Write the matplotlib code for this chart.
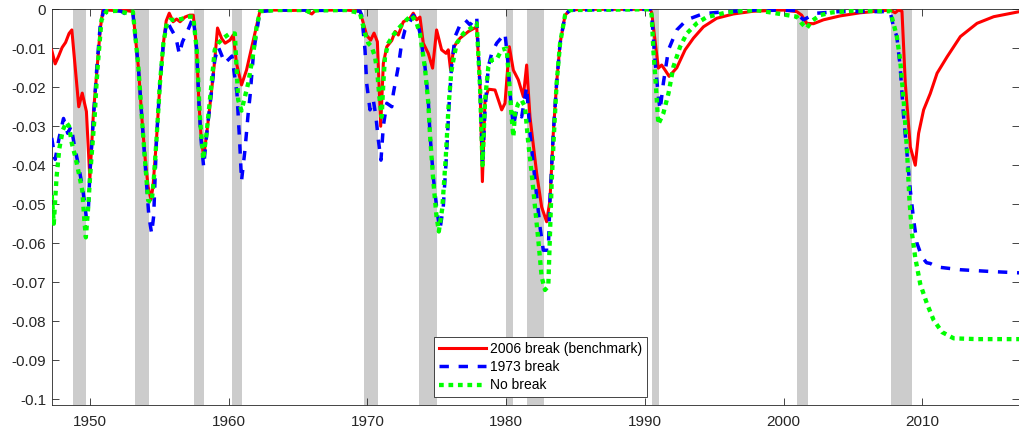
import matplotlib
matplotlib.use("Agg")
import matplotlib.pyplot as plt
from matplotlib.ticker import FixedLocator

plt.rcParams['font.family'] = ['Liberation Sans', 'DejaVu Sans']

# NBER recessions (start, end) in decimal years
rec_start = [1948.75, 1953.25, 1957.5, 1960.25, 1969.75, 1973.75, 1980.0, 1981.5, 1990.5, 2001.0, 2007.75]
rec_end = [1949.75, 1954.25, 1958.25, 1961.0, 1970.75, 1975.0, 1980.5, 1982.75, 1991.0, 2001.75, 2009.25]

# 2006 break (benchmark)
red_t = [1947.25, 1947.5, 1947.75, 1948.0, 1948.25, 1948.5, 1948.7, 1948.95, 1949.2, 1949.45,
         1949.75, 1950.0, 1950.25, 1950.5, 1950.75, 1950.95, 1951.25, 1951.75, 1952.25, 1952.75,
         1953.1, 1953.5, 1953.75, 1954.0, 1954.2, 1954.4, 1954.55, 1954.8, 1955.05, 1955.3,
         1955.5, 1955.72, 1956.0, 1956.25, 1956.5, 1956.85, 1957.2, 1957.45, 1957.7, 1957.85,
         1958.0, 1958.2, 1958.45, 1958.75, 1959.0, 1959.2, 1959.5, 1959.75, 1960.1, 1960.33,
         1960.57, 1960.93, 1961.29, 1961.54, 1961.9, 1962.25, 1962.5, 1963.5, 1964.5, 1965.5,
         1966.0, 1966.25, 1967.5, 1968.5, 1969.47, 1969.95, 1970.24, 1970.48, 1970.72, 1970.96,
         1971.15, 1971.4, 1971.76, 1972.0, 1972.23, 1972.59, 1973.07, 1973.31, 1973.55, 1973.79,
         1974.03, 1974.39, 1974.7, 1974.99, 1975.35, 1975.67, 1975.83, 1976.0, 1976.24, 1976.68,
         1977.28, 1977.88, 1978.12, 1978.29, 1978.48, 1978.72, 1979.2, 1979.68, 1979.92, 1980.23,
         1980.52, 1980.88, 1981.24, 1981.48, 1981.72, 1982.2, 1982.56, 1982.92, 1983.16, 1983.4,
         1983.64, 1983.89, 1984.25, 1984.6, 1985.5, 1987.0, 1988.5, 1990.37, 1990.49, 1990.73,
         1990.97, 1991.21, 1991.46, 1991.75, 1992.3, 1992.9, 1993.5, 1994.22, 1995.18, 1996.38,
         1997.82, 1999.98, 2000.95, 2001.3, 2001.66, 2002.15, 2002.87, 2004.07, 2005.51, 2007.68,
         2008.04, 2008.28, 2008.53, 2008.77, 2009.13, 2009.49, 2009.73, 2010.09, 2010.57, 2011.06,
         2011.78, 2012.74, 2013.94, 2015.14, 2017.0]
red_v = [-0.0105, -0.0140, -0.0120, -0.0098, -0.0085, -0.0062, -0.0053, -0.0150, -0.0250, -0.0215,
         -0.0262, -0.0435, -0.0270, -0.0160, -0.0050, 0.0, -0.0002, -0.0003, -0.0002, -0.0004,
         -0.0006, -0.0150, -0.0280, -0.0390, -0.0455, -0.0488, -0.0455, -0.0335, -0.0190, -0.0087,
         -0.0030, -0.0010, -0.0032, -0.0025, -0.0032, -0.0020, -0.0015, -0.0015, -0.0104, -0.0233,
         -0.0320, -0.0380, -0.0310, -0.0216, -0.0130, -0.0048, -0.0075, -0.0087, -0.0079, -0.0066,
         -0.0139, -0.0194, -0.0156, -0.0117, -0.0060, -0.0006, -0.0002, -0.0002, -0.0003, -0.0002,
         -0.0012, -0.0003, -0.0002, -0.0002, -0.0005, -0.0067, -0.0079, -0.0061, -0.0083, -0.0300,
         -0.0139, -0.0096, -0.0080, -0.0057, -0.0066, -0.0032, -0.0023, -0.0010, -0.0027, -0.0020,
         -0.0087, -0.0113, -0.0151, -0.0053, -0.0104, -0.0113, -0.0104, -0.0156, -0.0096, -0.0074,
         -0.0057, -0.0045, -0.0199, -0.0442, -0.0233, -0.0205, -0.0207, -0.0258, -0.0241, -0.0096,
         -0.0156, -0.0181, -0.0224, -0.0143, -0.0276, -0.0420, -0.0507, -0.0545, -0.0490, -0.0318,
         -0.0190, -0.0087, -0.0015, -0.0002, 0.0, 0.0, 0.0, 0.0, -0.0008, -0.0079,
         -0.0151, -0.0143, -0.0156, -0.0172, -0.0150, -0.0104, -0.0074, -0.0045, -0.0023, -0.0012,
         -0.0005, -0.0002, -0.0006, -0.0015, -0.0036, -0.0037, -0.0027, -0.0017, -0.0009, -0.0002,
         -0.0009, -0.0002, -0.0005, -0.0190, -0.0353, -0.0400, -0.0318, -0.0258, -0.0216, -0.0164,
         -0.0122, -0.0070, -0.0036, -0.0019, -0.0006]

# 1973 break
blue_t = [1947.25, 1947.5, 1947.8, 1948.1, 1948.4, 1948.65, 1948.9, 1949.2, 1949.5, 1949.75,
          1949.9, 1950.0, 1950.12, 1950.25, 1950.5, 1950.75, 1951.0, 1951.5, 1952.25, 1952.88,
          1953.1, 1953.5, 1953.75, 1954.05, 1954.25, 1954.45, 1954.6, 1954.8, 1955.05, 1955.3,
          1955.55, 1955.85, 1956.2, 1956.45, 1956.67, 1957.07, 1957.45, 1957.7, 1957.85, 1958.0,
          1958.2, 1958.45, 1958.75, 1959.0, 1959.25, 1959.73, 1960.24, 1960.6, 1960.8, 1960.93,
          1961.18, 1961.41, 1961.54, 1961.8, 1962.25, 1963.5, 1965.5, 1966.0, 1966.25, 1968.5,
          1969.47, 1969.59, 1969.83, 1969.95, 1970.19, 1970.43, 1970.62, 1970.79, 1970.98, 1971.15,
          1971.4, 1971.76, 1971.87, 1972.23, 1972.47, 1972.71, 1973.07, 1973.31, 1973.55, 1973.79,
          1974.15, 1974.39, 1974.51, 1974.75, 1975.04, 1975.23, 1975.47, 1975.71, 1975.88, 1976.07,
          1976.32, 1976.68, 1977.04, 1977.4, 1977.88, 1978.12, 1978.3, 1978.48, 1978.72, 1978.96,
          1979.32, 1979.92, 1980.16, 1980.28, 1980.52, 1980.76, 1981.12, 1981.48, 1981.72, 1982.08,
          1982.44, 1982.68, 1983.04, 1983.16, 1983.4, 1983.64, 1983.89, 1984.25, 1984.6, 1990.37,
          1990.49, 1990.73, 1990.97, 1991.1, 1991.33, 1991.7, 1992.3, 1993.02, 1994.22, 1995.9,
          1998.0, 2000.95, 2001.07, 2001.43, 2001.8, 2002.4, 2004.0, 2007.68, 2007.92, 2008.16,
          2008.4, 2008.65, 2008.89, 2009.13, 2009.37, 2009.61, 2009.97, 2010.3, 2010.57, 2011.06,
          2011.78, 2012.74, 2015.14, 2017.0]
blue_v = [-0.0330, -0.0385, -0.0327, -0.0280, -0.0318, -0.0300, -0.0353, -0.0404, -0.0464, -0.0535,
          -0.0507, -0.0420, -0.0353, -0.0284, -0.0150, -0.0040, -0.0003, -0.0003, -0.0005, -0.0019,
          -0.0010, -0.0150, -0.0280, -0.0430, -0.0530, -0.0575, -0.0530, -0.0335, -0.0190, -0.0087,
          -0.0030, -0.0050, -0.0072, -0.0115, -0.0084, -0.0053, -0.0020, -0.0104, -0.0233, -0.0330,
          -0.0404, -0.0310, -0.0216, -0.0130, -0.0096, -0.0138, -0.0120, -0.0215, -0.0343, -0.0440,
          -0.0360, -0.0267, -0.0224, -0.0110, -0.0006, -0.0002, -0.0002, -0.0010, -0.0003, -0.0002,
          -0.0005, -0.0015, -0.0104, -0.0190, -0.0258, -0.0233, -0.0276, -0.0335, -0.0387, -0.0300,
          -0.0241, -0.0250, -0.0216, -0.0147, -0.0087, -0.0053, -0.0032, -0.0015, -0.0025, -0.0061,
          -0.0147, -0.0233, -0.0318, -0.0430, -0.0523, -0.0566, -0.0507, -0.0370, -0.0250, -0.0147,
          -0.0070, -0.0040, -0.0027, -0.0040, -0.0019, -0.0200, -0.0400, -0.0258, -0.0147, -0.0113,
          -0.0087, -0.0062, -0.0147, -0.0216, -0.0300, -0.0258, -0.0276, -0.0199, -0.0318, -0.0438,
          -0.0558, -0.0618, -0.0618, -0.0490, -0.0318, -0.0190, -0.0087, -0.0015, -0.0002, 0.0,
          -0.0015, -0.0130, -0.0224, -0.0258, -0.0190, -0.0104, -0.0053, -0.0027, -0.0011, -0.0006,
          -0.0002, -0.0003, -0.0015, -0.0027, -0.0020, -0.0010, -0.0006, -0.0006, -0.0045, -0.0070,
          -0.0147, -0.0276, -0.0370, -0.0464, -0.0540, -0.0600, -0.0635, -0.0650, -0.0652, -0.0661,
          -0.0664, -0.0668, -0.0673, -0.0676]

# No break
green_t = [1947.25, 1947.4, 1947.6, 1947.8, 1948.05, 1948.3, 1948.5, 1948.7, 1948.95, 1949.2,
           1949.45, 1949.6, 1949.71, 1949.88, 1950.0, 1950.12, 1950.36, 1950.48, 1950.6, 1950.84,
           1951.2, 1952.0, 1952.7, 1953.1, 1953.5, 1953.75, 1954.0, 1954.2, 1954.45, 1954.6,
           1954.8, 1955.05, 1955.3, 1955.55, 1955.77, 1956.2, 1956.6, 1957.0, 1957.45, 1957.7,
           1957.93, 1958.17, 1958.41, 1958.77, 1959.0, 1959.25, 1959.61, 1960.09, 1960.45, 1960.57,
           1960.69, 1960.93, 1961.18, 1961.41, 1961.78, 1962.02, 1962.26, 1963.5, 1965.5, 1966.0,
           1966.25, 1968.5, 1969.47, 1969.83, 1970.07, 1970.31, 1970.55, 1970.72, 1970.86, 1971.03,
           1971.15, 1971.27, 1971.51, 1971.87, 1972.35, 1972.83, 1973.19, 1973.55, 1973.79, 1974.15,
           1974.39, 1974.51, 1974.75, 1974.98, 1975.15, 1975.4, 1975.65, 1975.85, 1976.05, 1976.2,
           1976.44, 1976.92, 1977.4, 1977.88, 1978.12, 1978.3, 1978.48, 1978.72, 1978.96, 1979.32,
           1979.68, 1980.04, 1980.23, 1980.4, 1980.52, 1980.64, 1980.88, 1981.12, 1981.36, 1981.6,
           1981.84, 1982.08, 1982.32, 1982.56, 1982.8, 1983.04, 1983.16, 1983.28, 1983.45, 1983.64,
           1983.89, 1984.25, 1984.6, 1990.37, 1990.49, 1990.61, 1990.8, 1990.97, 1991.33, 1991.7,
           1992.06, 1992.54, 1993.02, 1993.74, 1994.46, 1995.9, 1998.0, 2000.95, 2001.3, 2001.66,
           2002.03, 2002.63, 2003.5, 2005.0, 2007.68, 2007.92, 2008.16, 2008.4, 2008.65, 2008.89,
           2009.07, 2009.25, 2009.49, 2009.85, 2010.33, 2010.81, 2011.42, 2012.26, 2013.94, 2017.0]
green_v = [-0.0477, -0.0550, -0.0430, -0.0357, -0.0310, -0.0290, -0.0300, -0.0344, -0.0378, -0.0420,
           -0.0464, -0.0540, -0.0585, -0.0507, -0.0438, -0.0378, -0.0267, -0.0190, -0.0130, -0.0027,
           -0.0005, -0.0004, -0.0010, -0.0006, -0.0150, -0.0280, -0.0400, -0.0490, -0.0495, -0.0440,
           -0.0335, -0.0190, -0.0087, -0.0035, -0.0027, -0.0027, -0.0025, -0.0019, -0.0019, -0.0104,
           -0.0276, -0.0385, -0.0318, -0.0190, -0.0104, -0.0087, -0.0074, -0.0062, -0.0062, -0.0147,
           -0.0233, -0.0260, -0.0224, -0.0190, -0.0113, -0.0045, -0.0005, -0.0002, -0.0002, -0.0010,
           -0.0003, -0.0002, -0.0010, -0.0062, -0.0087, -0.0096, -0.0122, -0.0164, -0.0224, -0.0276,
           -0.0190, -0.0122, -0.0087, -0.0066, -0.0045, -0.0027, -0.0015, -0.0036, -0.0062, -0.0150,
           -0.0240, -0.0320, -0.0440, -0.0530, -0.0570, -0.0510, -0.0380, -0.0250, -0.0160, -0.0130,
           -0.0087, -0.0062, -0.0050, -0.0036, -0.0200, -0.0400, -0.0233, -0.0147, -0.0130, -0.0128,
           -0.0104, -0.0100, -0.0190, -0.0276, -0.0327, -0.0267, -0.0241, -0.0233, -0.0250, -0.0344,
           -0.0420, -0.0507, -0.0592, -0.0686, -0.0720, -0.0710, -0.0575, -0.0447, -0.0318, -0.0190,
           -0.0087, -0.0015, -0.0002, 0.0, -0.0015, -0.0104, -0.0199, -0.0295, -0.0267, -0.0216,
           -0.0147, -0.0096, -0.0062, -0.0036, -0.0020, -0.0008, -0.0002, -0.0019, -0.0036, -0.0049,
           -0.0030, -0.0015, -0.0008, -0.0004, -0.0005, -0.0036, -0.0070, -0.0130, -0.0233, -0.0360,
           -0.0490, -0.0575, -0.0638, -0.0705, -0.0755, -0.0797, -0.0828, -0.0844, -0.0846, -0.0846]

x_ticks = [1950, 1960, 1970, 1980, 1990, 2000, 2010]
y_ticks = [0, -0.01, -0.02, -0.03, -0.04, -0.05, -0.06, -0.07, -0.08, -0.09, -0.1]
y_labels = ['0', '-0.01', '-0.02', '-0.03', '-0.04', '-0.05', '-0.06', '-0.07', '-0.08', '-0.09', '-0.1']

fig = plt.figure(figsize=(10.2, 4.34), dpi=100)
ax = fig.add_axes([0.0507, 0.0668, 0.9488, 0.9118])

# recession shading
for s, e in zip(rec_start, rec_end):
    ax.axvspan(s, e, color='#cccccc', lw=0, zorder=0)

ax.plot(red_t, red_v, color='#ff0000', lw=2.2, label='2006 break (benchmark)', zorder=3)
ax.plot(blue_t, blue_v, color='#0000ff', lw=2.5, dashes=(2.7, 2.8), label='1973 break', zorder=4)
ax.plot(green_t, green_v, color='#00ff00', lw=3.1, dashes=(1.1, 1.1), label='No break', zorder=5)

ax.set_xlim(1947.25, 2017.0)
ax.set_ylim(-0.1015, 0)
ax.xaxis.set_major_locator(FixedLocator(x_ticks))
ax.set_yticks(y_ticks)
ax.set_yticklabels(y_labels)

ax.tick_params(axis='both', which='both', direction='in', top=True, right=True,
               length=5, width=0.6, color='#262626', labelcolor='#262626', labelsize=11)
ax.tick_params(axis='x', pad=7)
ax.tick_params(axis='y', pad=4)
for sp in ax.spines.values():
    sp.set_color('#262626')
    sp.set_linewidth(0.6)

leg = ax.legend(loc='lower center', bbox_to_anchor=(0.505, 0.0195), fontsize=10,
                fancybox=False, framealpha=1, edgecolor='#262626', handlelength=3.4,
                handletextpad=0.3, labelspacing=0.32, borderpad=0.35, borderaxespad=0)
leg.get_frame().set_linewidth(0.6)

fig.savefig('out.png', dpi=100)
